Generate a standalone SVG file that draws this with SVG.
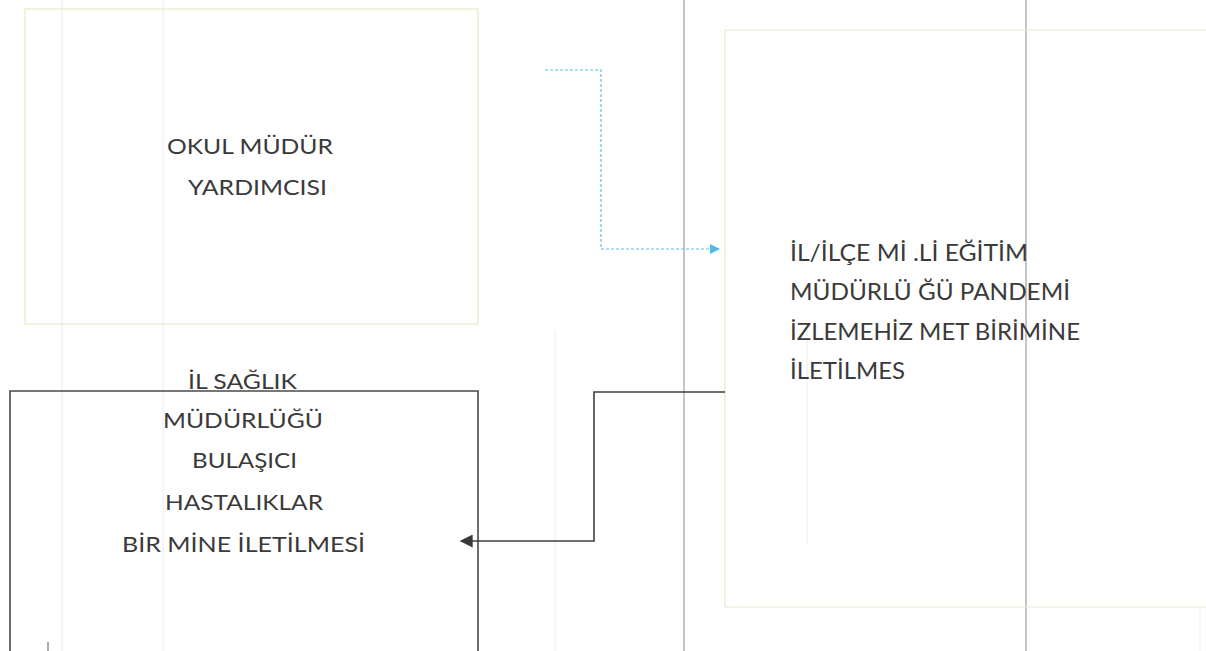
<svg xmlns="http://www.w3.org/2000/svg" width="1206" height="651" viewBox="0 0 1206 651">
<style>
.t{font-family:Lato,"Open Sans","Liberation Sans",sans-serif;fill:#3a3a3a}
.faint{stroke:#ececec;stroke-width:1;fill:none}
.grid{stroke:#8a8a8a;stroke-width:1;fill:none}
.pale{fill:none;stroke:#e4ecc6;stroke-width:1.2}
</style>
<defs>
<marker id="aCyan" viewBox="0 0 10 10" refX="9" refY="5" markerWidth="10" markerHeight="10" markerUnits="userSpaceOnUse" orient="auto"><path d="M0,0 L10,5 L0,10 z" fill="#4fb8e6"/></marker>
<marker id="aDark" viewBox="0 0 10 10" refX="9" refY="5" markerWidth="14" markerHeight="13" markerUnits="userSpaceOnUse" orient="auto"><path d="M0,0 L10,5 L0,10 z" fill="#3a3a3a"/></marker>
</defs>
<rect width="1206" height="651" fill="#ffffff"/>
<g id="background-lines">
<line class="faint" x1="62" y1="0" x2="62" y2="651"/>
<line class="faint" x1="163" y1="0" x2="163" y2="651"/>
<line class="faint" x1="555" y1="330" x2="555" y2="651"/>
<line class="faint" x1="807" y1="330" x2="807" y2="545"/>
<line class="faint" x1="1200" y1="610" x2="1200" y2="651"/>
<line class="grid" x1="684" y1="0" x2="684" y2="651"/>
<line class="grid" x1="1026" y1="0" x2="1026" y2="651"/>
<line x1="48" y1="642" x2="48" y2="651" stroke="#555" stroke-width="1"/>
</g>
<g id="node-okul">
<rect class="pale" x="25" y="9" width="453" height="315"/>
<text class="t" x="167" y="154" font-size="21" textLength="166" lengthAdjust="spacingAndGlyphs">OKUL MÜDÜR</text>
<text class="t" x="188" y="195" font-size="21" textLength="139" lengthAdjust="spacingAndGlyphs">YARDIMCISI</text>
</g>
<g id="node-ilce">
<path class="pale" d="M1206,30 L725,30 L725,607 L1206,607" stroke="#eef0cc"/>
<text class="t" x="790" y="261" font-size="23.5" textLength="238" lengthAdjust="spacingAndGlyphs">İL/İLÇE Mİ .Lİ EĞİTİM</text>
<text class="t" x="790" y="300" font-size="23.5" textLength="280" lengthAdjust="spacingAndGlyphs">MÜDÜRLÜ ĞÜ PANDEMİ</text>
<text class="t" x="790" y="340" font-size="23.5" textLength="290" lengthAdjust="spacingAndGlyphs">İZLEMEHİZ MET BİRİMİNE</text>
<text class="t" x="790" y="379" font-size="23.5" textLength="115" lengthAdjust="spacingAndGlyphs">İLETİLMES</text>
</g>
<g id="node-saglik">
<path d="M10,651 L10,391 L478,391 L478,651" fill="none" stroke="#4a4a4a" stroke-width="1.6"/>
<text class="t" x="188" y="389" font-size="22" textLength="109" lengthAdjust="spacingAndGlyphs">İL SAĞLIK</text>
<text class="t" x="163" y="428" font-size="22" textLength="160" lengthAdjust="spacingAndGlyphs">MÜDÜRLÜĞÜ</text>
<text class="t" x="192" y="468" font-size="22" textLength="105" lengthAdjust="spacingAndGlyphs">BULAŞICI</text>
<text class="t" x="165" y="510" font-size="22" textLength="158" lengthAdjust="spacingAndGlyphs">HASTALIKLAR</text>
<text class="t" x="122" y="552" font-size="22" textLength="243" lengthAdjust="spacingAndGlyphs">BİR MİNE İLETİLMESİ</text>
</g>
<g id="connectors">
<path d="M545,70 L601,70 L601,249 L719,249" fill="none" stroke="#5cc0ea" stroke-width="1.2" stroke-dasharray="3,2" marker-end="url(#aCyan)"/>
<path d="M725,392 L594,392 L594,541 L461,541" fill="none" stroke="#3f3f3f" stroke-width="1.6" marker-end="url(#aDark)"/>
</g>
</svg>
